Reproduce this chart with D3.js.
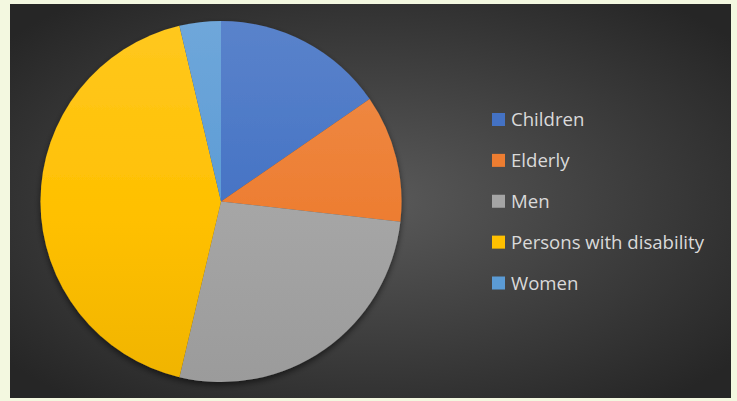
<!DOCTYPE html>
<html>
<head>
<meta charset="utf-8">
<script src="https://cdn.jsdelivr.net/npm/d3@7"></script>
<style>
  html, body { margin: 0; padding: 0; background: #f3f8e0; }
  svg { display: block; }
</style>
</head>
<body>
<svg id="chart" width="737" height="401"></svg>
<script>
// Share of each group (percent)
const categories = ["Children", "Elderly", "Men", "Persons with disability", "Women"];
const values = [15.4, 11.4, 26.9, 42.6, 3.7];
const colors = ["#4472C4", "#ED7D31", "#A5A5A5", "#FFC000", "#5B9BD5"];

const svg = d3.select("#chart");
const defs = svg.append("defs");

// Dark radial backdrop
const bg = defs.append("radialGradient").attr("id", "bgGrad")
  .attr("cx", "50%").attr("cy", "50%").attr("r", "65%");
bg.append("stop").attr("offset", "0%").attr("stop-color", "#5a5a5a");
bg.append("stop").attr("offset", "100%").attr("stop-color", "#262626");

const shadow = defs.append("filter").attr("id", "pieShadow")
  .attr("x", "-20%").attr("y", "-20%").attr("width", "140%").attr("height", "140%");
shadow.append("feDropShadow").attr("dx", 0).attr("dy", 3)
  .attr("stdDeviation", 3).attr("flood-color", "#000").attr("flood-opacity", 0.55);

const frame = { x: 10, y: 4, w: 721, h: 394 };
svg.append("rect").attr("x", frame.x).attr("y", frame.y)
  .attr("width", frame.w).attr("height", frame.h).attr("fill", "url(#bgGrad)");

const cx = 221, cy = 201.5, radius = 180.5;

// Per-slice vertical shading (in the pie group's frame): lighter at top
colors.forEach((c, i) => {
  const g = defs.append("linearGradient").attr("id", "slice" + i)
    .attr("gradientUnits", "userSpaceOnUse")
    .attr("x1", 0).attr("y1", -radius).attr("x2", 0).attr("y2", radius);
  g.append("stop").attr("offset", "0%").attr("stop-color", d3.interpolateRgb(c, "#fff")(0.12));
  g.append("stop").attr("offset", "55%").attr("stop-color", c);
  g.append("stop").attr("offset", "100%").attr("stop-color", d3.interpolateRgb(c, "#000")(0.06));
});

const pie = d3.pie().sort(null).value(d => d.value);
const arc = d3.arc().innerRadius(0).outerRadius(radius);
const data = categories.map((name, i) => ({ name, value: values[i], i }));

const pieG = svg.append("g").attr("transform", `translate(${cx},${cy})`)
  .attr("filter", "url(#pieShadow)");
pieG.selectAll("path").data(pie(data)).join("path")
  .attr("d", arc)
  .attr("fill", d => `url(#slice${d.data.i})`);

// Legend
const legY = d3.scalePoint().domain(categories).range([119.5, 283]);
const item = svg.append("g").selectAll("g").data(data).join("g")
  .attr("transform", d => `translate(492,${legY(d.name)})`);
item.append("rect").attr("x", 0).attr("y", -6.5).attr("width", 13).attr("height", 13)
  .attr("fill", d => colors[d.i]);
item.append("text").attr("x", 19).attr("y", 0).attr("dy", "0.36em")
  .attr("font-family", "'Open Sans', sans-serif").attr("font-size", 18.6)
  .attr("fill", "#dadada").text(d => d.name);
</script>
</body>
</html>
